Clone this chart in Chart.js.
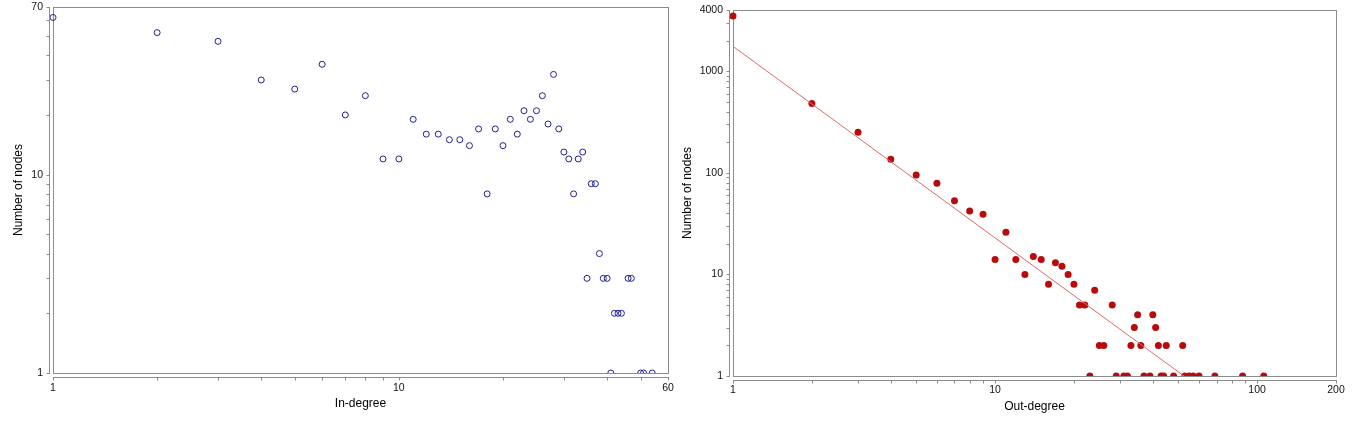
<!DOCTYPE html>
<html>
<head>
<meta charset="utf-8">
<script src="https://cdn.jsdelivr.net/npm/chart.js@4.4.0/dist/chart.umd.min.js"></script>
<style>
    html, body { margin: 0; padding: 0; background: #fff; }
    #wrap { position: relative; width: 1368px; height: 423px; overflow: hidden; }
    canvas { position: absolute; top: 0; }
    #inChart { left: 0; }
    #outChart { left: 680px; }
</style>
</head>
<body>
<div id="wrap">
    <canvas id="inChart" width="680" height="423"></canvas>
    <canvas id="outChart" width="688" height="423"></canvas>
</div>
<script>
// DATA - in-degree distribution
const inDegree = [1, 2, 3, 4, 5, 6, 7, 8, 9, 10, 11, 12, 13, 14, 15, 16, 17, 18, 19, 20,
    21, 22, 23, 24, 25, 26, 27, 28, 29, 30, 31, 32, 33, 34, 35, 36, 37, 38, 39, 40,
    41, 42, 43, 44, 46, 47, 50, 51, 54];
const inNodes = [62, 52, 47, 30, 27, 36, 20, 25, 12, 12, 19, 16, 16, 15, 15, 14, 17, 8, 17, 14,
    19, 16, 21, 19, 21, 25, 18, 32, 17, 13, 12, 8, 12, 13, 3, 9, 9, 4, 3, 3,
    1, 2, 2, 2, 3, 3, 1, 1, 1];

// DATA - out-degree distribution
const outDegree = [1, 2, 3, 4, 5, 6, 7, 8, 9, 10, 11, 12, 13, 14, 15, 16, 17, 18, 19, 20,
    21, 22, 23, 24, 25, 26, 28, 29, 31, 32, 33, 34, 35, 36, 37, 39, 40, 41, 42, 43,
    44, 45, 48, 52, 53, 55, 57, 60, 69, 88, 106];
const outNodes = [3500, 480, 250, 136, 95, 79, 53, 42, 39, 14, 26, 14, 10, 15, 14, 8, 13, 12, 10, 8,
    5, 5, 1, 7, 2, 2, 5, 1, 1, 1, 2, 3, 4, 2, 1, 1, 4, 3, 2, 1,
    1, 2, 1, 2, 1, 1, 1, 1, 1, 1, 1];

// power-law fit line (end points)
const fitDegree = [1, 52.6];
const fitNodes = [1755, 1];

// TICKS
const inXTicks = [1, 2, 3, 4, 5, 6, 7, 8, 9, 10, 20, 30, 40, 50, 60];
const inXLabels = [1, 10, 60];
const inYTicks = [1, 2, 3, 4, 5, 6, 7, 8, 9, 10, 20, 30, 40, 50, 60, 70];
const inYLabels = [1, 10, 70];
const outXTicks = [1, 2, 3, 4, 5, 6, 7, 8, 9, 10, 20, 30, 40, 50, 60, 70, 80, 90, 100, 200];
const outXLabels = [1, 10, 100, 200];
const outYTicks = [1, 2, 3, 4, 5, 6, 7, 8, 9, 10, 20, 30, 40, 50, 60, 70, 80, 90, 100,
    200, 300, 400, 500, 600, 700, 800, 900, 1000, 2000, 3000, 4000];
const outYLabels = [1, 10, 100, 1000, 4000];

const FONT = "'Liberation Sans', Arial, sans-serif";
const AXIS_GREY = "#8c8c8c";

function toPoints(xs, ys) {
    return xs.map((x, i) => ({ x: x, y: ys[i] }));
}

// frame round the plot + offset axis lines with small ticks
const axisFrame = {
    id: "axisFrame",
    beforeDatasetsDraw(chart) {
        const { ctx, chartArea: a } = chart;
        ctx.save();
        ctx.strokeStyle = AXIS_GREY;
        ctx.lineWidth = 1;
        ctx.strokeRect(a.left + 0.5, a.top + 0.5, a.right - a.left, a.bottom - a.top);
        ctx.restore();
    },
    afterDraw(chart) {
        const { ctx, chartArea: a, scales } = chart;
        const ax = a.left - 3.5;
        const ay = a.bottom + 4.5;
        ctx.save();
        ctx.strokeStyle = AXIS_GREY;
        ctx.lineWidth = 1;
        ctx.beginPath();
        ctx.moveTo(ax, a.top);
        ctx.lineTo(ax, a.bottom + 1);
        scales.y.ticks.forEach((t) => {
            const p = Math.round(scales.y.getPixelForValue(t.value)) + 0.5;
            ctx.moveTo(ax, p);
            ctx.lineTo(ax - 3, p);
        });
        ctx.moveTo(a.left, ay);
        ctx.lineTo(a.right + 1, ay);
        scales.x.ticks.forEach((t) => {
            const p = Math.round(scales.x.getPixelForValue(t.value)) + 0.5;
            ctx.moveTo(p, ay);
            ctx.lineTo(p, ay + 3);
        });
        ctx.stroke();
        ctx.restore();
    },
};

function logAxis(cfg) {
    return {
        type: "logarithmic",
        min: cfg.min,
        max: cfg.max,
        grid: { display: false, drawTicks: false },
        border: { display: false },
        afterBuildTicks: (scale) => { scale.ticks = cfg.ticks.map((v) => ({ value: v })); },
        afterFit: (scale) => {
            if (cfg.width !== undefined) scale.width = cfg.width;
            if (cfg.height !== undefined) scale.height = cfg.height;
            // labels may hang over the plot edges, don't let them shrink it
            scale.paddingTop = 0;
            scale.paddingBottom = 0;
            scale.paddingLeft = 0;
            scale.paddingRight = 0;
        },
        ticks: {
            autoSkip: false,
            maxRotation: 0,
            padding: cfg.tickPad,
            color: "#111",
            font: { family: FONT, size: 10.5 },
            callback: (v) => (cfg.labels.includes(v) ? String(v) : ""),
        },
        title: {
            display: true,
            text: cfg.title,
            color: "#000",
            font: { family: FONT, size: 12 },
            padding: cfg.titlePad,
        },
    };
}

function baseOptions(layout, xAxis, yAxis) {
    return {
        responsive: false,
        animation: false,
        layout: { padding: layout },
        plugins: { legend: { display: false }, tooltip: { enabled: false } },
        scales: { x: xAxis, y: yAxis },
    };
}

// LEFT CHART - in-degree
new Chart(document.getElementById("inChart"), {
    type: "scatter",
    data: {
        datasets: [{
            data: toPoints(inDegree, inNodes),
            pointStyle: "circle",
            pointRadius: 3,
            borderWidth: 1,
            borderColor: "#1f1f8e",
            backgroundColor: "rgba(0,0,0,0)",
            clip: { left: false, top: false, right: false, bottom: 0 },
        }],
    },
    options: baseOptions(
        { top: 7, right: 12, left: 0, bottom: 0 },
        logAxis({ min: 1, max: 60, ticks: inXTicks, labels: inXLabels, title: "In-degree",
            height: 50, tickPad: 9, titlePad: { top: 0, bottom: 12 } }),
        logAxis({ min: 1, max: 70, ticks: inYTicks, labels: inYLabels, title: "Number of nodes",
            width: 53, tickPad: 10, titlePad: { top: 11, bottom: 0 } })
    ),
    plugins: [axisFrame],
});

// RIGHT CHART - out-degree with fit
new Chart(document.getElementById("outChart"), {
    type: "scatter",
    data: {
        datasets: [
            {
                data: toPoints(fitDegree, fitNodes),
                showLine: true,
                pointRadius: 0,
                borderWidth: 1,
                borderColor: "#e06a6a",
                clip: { left: false, top: false, right: false, bottom: 0 },
            },
            {
                data: toPoints(outDegree, outNodes),
                pointStyle: "circle",
                pointRadius: 3.5,
                borderWidth: 0,
                backgroundColor: "#b80c0c",
                clip: { left: false, top: false, right: false, bottom: 0 },
            },
        ],
    },
    options: baseOptions(
        { top: 10, right: 32, left: 0, bottom: 0 },
        logAxis({ min: 1, max: 200, ticks: outXTicks, labels: outXLabels, title: "Out-degree",
            height: 47, tickPad: 8, titlePad: { top: 0, bottom: 9 } }),
        logAxis({ min: 1, max: 4000, ticks: outYTicks, labels: outYLabels, title: "Number of nodes",
            width: 53, tickPad: 10, titlePad: { top: 0, bottom: 0 } })
    ),
    plugins: [axisFrame],
});
</script>
</body>
</html>
